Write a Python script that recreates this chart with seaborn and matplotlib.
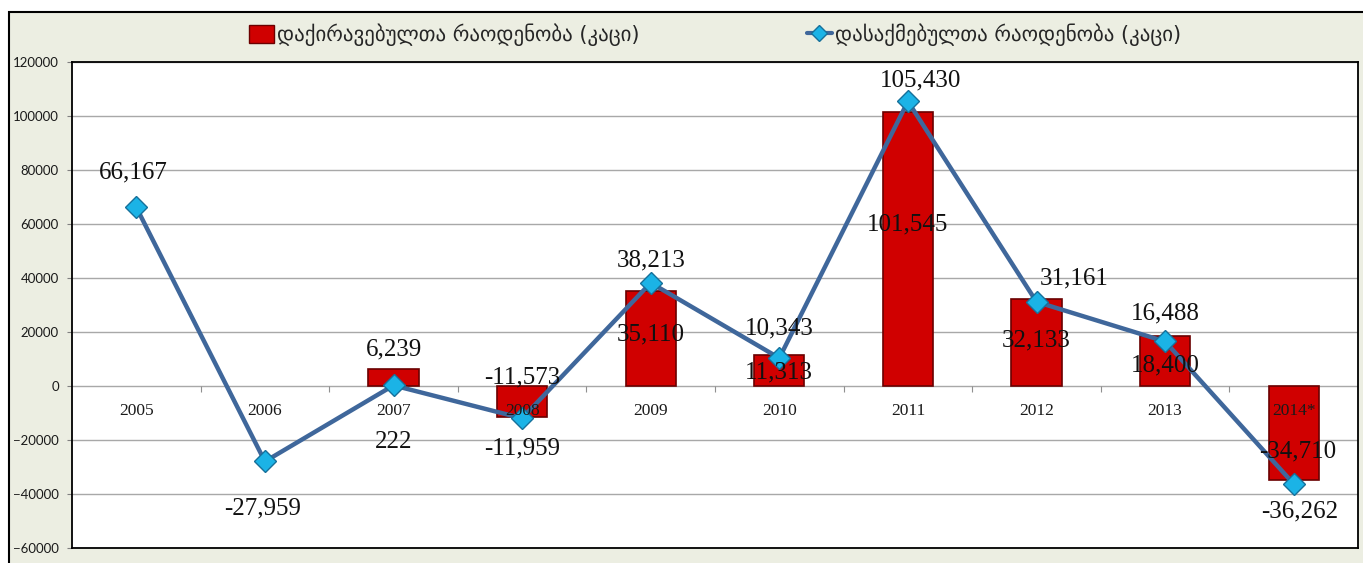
import numpy as np
import pandas as pd
import matplotlib
matplotlib.use("Agg")
import matplotlib.pyplot as plt
import seaborn as sns
from matplotlib.patches import Patch, Rectangle
from matplotlib.lines import Line2D

years = ["2005", "2006", "2007", "2008", "2009", "2010", "2011", "2012", "2013", "2014*"]
hired = [np.nan, np.nan, 6239, -11573, 35110, 11313, 101545, 32133, 18400, -34710]
employed = [66167, -27959, 222, -11959, 38213, 10343, 105430, 31161, 16488, -36262]
hired_name = "დაქირავებულთა რაოდენობა (კაცი)"
employed_name = "დასაქმებულთა რაოდენობა (კაცი)"

# label offsets (points) relative to the value
hired_off = [None, None, (0, 14), (0, 29), (0, -31), (0, -12), (0, -81), (0, -30), (0, -21), (3, 20)]
emp_off = [(-2, 25), (-2, -34), (0, -41), (0, -22), (0, 16), (0, 21), (9, 15), (27, 17), (0, 20), (4, -20)]

df = pd.DataFrame({"year": years, "hired": hired, "employed": employed})

sns.set_style("white")
fig = plt.figure(figsize=(13.63, 5.63), dpi=100, facecolor="white")
fig.patches.append(Rectangle((9 / 1363, -0.05), 1.0, 1 - 12 / 563 + 0.05,
                             transform=fig.transFigure, facecolor="#ECEEE2",
                             edgecolor="black", lw=1.5, zorder=-10))
ax = fig.add_axes([72 / 1363, 15 / 563, 1286 / 1363, 486 / 563])
ax.set_facecolor("white")

sns.barplot(data=df, x="year", y="hired", order=years, color="#D00000", saturation=1,
            width=0.39, edgecolor="#6A0000", linewidth=1.2, ax=ax, zorder=2)
sns.pointplot(data=df, x="year", y="employed", order=years, color="#3F679B",
              markers="D", markersize=11, linewidth=3.2, markerfacecolor="#1BB3E6",
              markeredgecolor="#16709A", markeredgewidth=1, errorbar=None, ax=ax, zorder=3)

ax.set_ylim(-60000, 120000)
ax.set_xlim(-0.5, len(years) - 0.5)
ax.set_yticks(np.arange(-60000, 120001, 20000))
ax.yaxis.grid(True, color="#A8A8A8", lw=1)
ax.set_axisbelow(True)
ax.set_xlabel("")
ax.set_ylabel("")
ax.tick_params(axis="x", bottom=False, labelbottom=False)
ax.tick_params(axis="y", left=True, length=3.5, width=0.8, color="#808080", pad=6,
               labelsize=9.5, labelcolor="#1a1a1a")
for t in ax.get_yticklabels():
    t.set_fontfamily("Lato")
for s in ax.spines.values():
    s.set_color("black")
    s.set_linewidth(1.3)

# category axis crossing at zero
sec = ax.secondary_xaxis(60000 / 180000)
sec.set_zorder(6)
sec.xaxis.set_ticks_position("bottom")
sec.set_xticks(range(len(years)), labels=years)
sec.set_xticks(np.arange(0.5, len(years) - 0.5, 1), minor=True)
sec.tick_params(which="major", length=0, pad=12.5, labelsize=12.5, labelcolor="#1a1a1a")
sec.tick_params(which="minor", length=4, width=0.8, color="#909090", direction="out")
for t in sec.get_xticklabels():
    t.set_fontfamily("Liberation Serif")
for s in sec.spines.values():
    s.set_visible(False)

lab_kw = dict(textcoords="offset points", ha="center", va="center",
              fontsize=18, family="Liberation Serif", color="#111111", zorder=5)
for i, v in enumerate(hired):
    if not np.isnan(v):
        ax.annotate(f"{int(v):,}", (i, v), xytext=hired_off[i], **lab_kw)
for i, v in enumerate(employed):
    ax.annotate(f"{v:,}", (i, v), xytext=emp_off[i], **lab_kw)

handles = [Patch(facecolor="#D00000", edgecolor="#6A0000"),
           Line2D([], [], color="#3F679B", lw=3, marker="D", markersize=8,
                  markerfacecolor="#1BB3E6", markeredgecolor="#16709A")]
ax.legend(handles, [hired_name, employed_name], loc="center", bbox_to_anchor=(0.5, 1.056),
          ncol=2, frameon=False, handlelength=1.2, handleheight=1.0,
          handletextpad=0.15, columnspacing=8, prop={"family": "DejaVu Sans", "size": 15})

fig.savefig("out.png", dpi=100, facecolor=fig.get_facecolor())
